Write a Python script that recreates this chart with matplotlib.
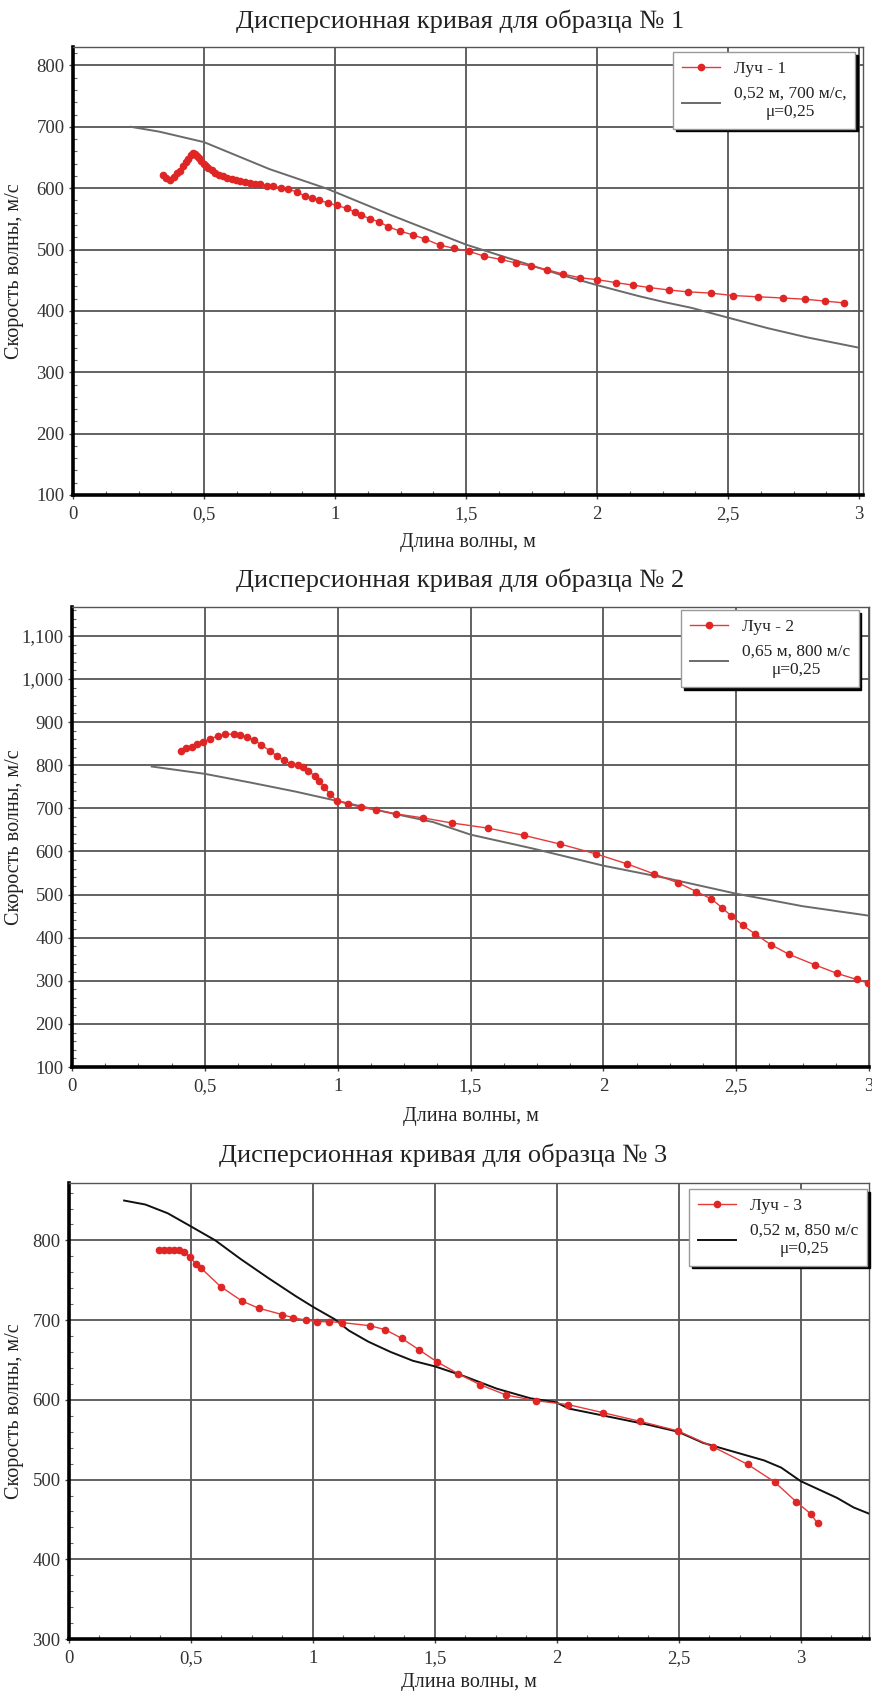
import matplotlib
matplotlib.use("Agg")
import matplotlib.pyplot as plt
from matplotlib.ticker import MultipleLocator

plt.rcParams['font.family'] = ['Liberation Serif', 'DejaVu Serif']

# ---- data ----
titles = ["Дисперсионная кривая для образца № 1",
          "Дисперсионная кривая для образца № 2",
          "Дисперсионная кривая для образца № 3"]
ray_labels = ["Луч - 1", "Луч - 2", "Луч - 3"]
theory_labels = ["0,52 м, 700 м/с,\nμ=0,25",
                 "0,65 м, 800 м/с\nμ=0,25",
                 "0,52 м, 850 м/с\nμ=0,25"]

ray1_x = [0.345, 0.355, 0.37, 0.385, 0.398, 0.408, 0.42, 0.43, 0.44, 0.45, 0.458, 0.465,
          0.472, 0.48, 0.49, 0.5, 0.508, 0.516, 0.529, 0.542, 0.557, 0.573, 0.589, 0.605,
          0.621, 0.637, 0.657, 0.676, 0.695, 0.714, 0.74, 0.765, 0.793, 0.822, 0.854, 0.885,
          0.911, 0.94, 0.974, 1.006, 1.045, 1.076, 1.101, 1.133, 1.169, 1.204, 1.248, 1.296,
          1.344, 1.401, 1.455, 1.512, 1.57, 1.632, 1.69, 1.747, 1.81, 1.871, 1.935, 1.999,
          2.073, 2.137, 2.2, 2.275, 2.349, 2.434, 2.519, 2.614, 2.71, 2.795, 2.869, 2.943]
ray1_y = [621, 617, 614, 618, 624, 628, 636, 642, 648, 654, 658, 656,
          653, 649, 645, 640, 636, 633, 629, 624, 621, 619, 617, 615,
          613, 612, 610, 609, 607, 606, 604, 603, 601, 598, 594, 587,
          584, 580, 576, 572, 567, 561, 556, 550, 545, 537, 530, 524,
          517, 507, 502, 497, 489, 484, 478, 473, 467, 460, 454, 451,
          446, 442, 438, 434, 431, 429, 425, 423, 421, 419, 416, 413]
theory1_x = [0.22, 0.33, 0.5, 0.75, 0.97, 1.22, 1.5, 1.86, 2.0, 2.16, 2.26, 2.36, 2.5, 2.65, 2.8, 3.0]
theory1_y = [700, 692, 675, 631, 599, 555, 508, 459, 442, 424, 414, 405, 389, 372, 357, 340]

ray2_x = [0.41, 0.43, 0.45, 0.47, 0.493, 0.52, 0.55, 0.577, 0.608, 0.634, 0.657, 0.686,
          0.713, 0.745, 0.77, 0.797, 0.824, 0.85, 0.87, 0.89, 0.913, 0.93, 0.95, 0.971,
          0.997, 1.038, 1.087, 1.143, 1.22, 1.32, 1.43, 1.567, 1.703, 1.838, 1.974, 2.09,
          2.19, 2.282, 2.35, 2.406, 2.448, 2.482, 2.524, 2.57, 2.63, 2.70, 2.796, 2.88,
          2.954, 2.996]
ray2_y = [834, 839, 843, 849, 854, 861, 868, 872, 872, 869, 865, 858,
          847, 833, 822, 811, 803, 800, 795, 786, 776, 764, 749, 733,
          718, 710, 703, 696, 687, 678, 666, 654, 637, 617, 594, 571,
          548, 527, 507, 490, 469, 450, 429, 409, 384, 361, 337, 317,
          303, 295]
theory2_x = [0.3, 0.5, 0.67, 0.84, 1.0, 1.2, 1.36, 1.5, 1.74, 2.0, 2.245, 2.5, 2.75, 3.0]
theory2_y = [797, 780, 760, 739, 717, 689, 668, 639, 606, 567, 537, 502, 473, 451]

ray3_x = [0.37, 0.389, 0.41, 0.43, 0.45, 0.473, 0.496, 0.519, 0.542, 0.622, 0.709, 0.777,
          0.874, 0.919, 0.972, 1.018, 1.068, 1.118, 1.233, 1.297, 1.365, 1.434, 1.507, 1.594,
          1.685, 1.793, 1.914, 2.047, 2.188, 2.342, 2.497, 2.641, 2.783, 2.893, 2.982, 3.041,
          3.069]
ray3_y = [788, 788, 788, 788, 788, 785, 779, 771, 765, 742, 724, 715,
          707, 703, 700, 698, 698, 697, 693, 688, 677, 663, 648, 633,
          619, 606, 599, 594, 584, 573, 561, 541, 519, 497, 472, 457,
          445]
theory3_x = [0.226, 0.313, 0.405, 0.503, 0.6, 0.702, 0.816, 0.93, 1.004, 1.09, 1.147, 1.227,
             1.319, 1.41, 1.5, 1.617, 1.754, 1.891, 1.996, 2.05, 2.211, 2.371, 2.497, 2.6,
             2.69, 2.85, 2.92, 3.0, 3.149, 3.217, 3.29]
theory3_y = [850, 845, 834, 817, 800, 777, 753, 730, 716, 701, 687, 673,
             660, 649, 642, 630, 614, 602, 597, 589, 579, 569, 560, 546,
             538, 524, 515, 498, 477, 465, 456]

x_ticks = [0, 0.5, 1, 1.5, 2, 2.5, 3]
x_ticklabels = ["0", "0,5", "1", "1,5", "2", "2,5", "3"]
y_ticks1 = [100, 200, 300, 400, 500, 600, 700, 800]
y_ticks2 = [100, 200, 300, 400, 500, 600, 700, 800, 900, 1000, 1100]
y_ticklabels2 = ["100", "200", "300", "400", "500", "600", "700", "800", "900", "1,000", "1,100"]
y_ticks3 = [300, 400, 500, 600, 700, 800]

# ---- layout (pixel boxes of the three plot areas) ----
W, H = 872, 1691
fig = plt.figure(figsize=(W / 100, H / 100), dpi=100)

panels = [
    dict(box=(73, 863, 47, 495), xlim=(0, 3.015), ylim=(100, 830),
         rx=ray1_x, ry=ray1_y, tx=theory1_x, ty=theory1_y, tcol="#6a6a6a",
         yt=y_ticks1, ytl=[str(v) for v in y_ticks1], leg=(0.99, 0.989),
         title_xy=(460, 21), xlab=-0.085),
    dict(box=(72, 869, 607, 1067), xlim=(0, 3.0), ylim=(100, 1167),
         rx=ray2_x, ry=ray2_y, tx=theory2_x, ty=theory2_y, tcol="#6a6a6a",
         yt=y_ticks2, ytl=y_ticklabels2, leg=(0.987, 0.993),
         title_xy=(460, 580), xlab=-0.087),
    dict(box=(69, 869, 1183, 1639), xlim=(0, 3.28), ylim=(300, 872),
         rx=ray3_x, ry=ray3_y, tx=theory3_x, ty=theory3_y, tcol="#111111",
         yt=y_ticks3, ytl=[str(v) for v in y_ticks3], leg=(0.9975, 0.987),
         title_xy=(443, 1155), xlab=-0.074),
]

for i, p in enumerate(panels):
    l, r, t, b = p["box"]
    ax = fig.add_axes([l / W, 1 - b / H, (r - l) / W, (b - t) / H])

    ax.plot(p["tx"], p["ty"], color=p["tcol"], lw=1.4, label=theory_labels[i], zorder=3)
    ax.plot(p["rx"], p["ry"], color="#e63a3a", lw=1.0, marker="o", ms=4.5,
            mfc="#e02525", mec="#e02525", label=ray_labels[i], zorder=4)

    ax.set_xlim(*p["xlim"])
    ax.set_ylim(*p["ylim"])
    ax.set_xticks(x_ticks)
    ax.set_xticklabels(x_ticklabels)
    ax.set_yticks(p["yt"])
    ax.set_yticklabels(p["ytl"])
    ax.xaxis.set_minor_locator(MultipleLocator(0.125))
    ax.yaxis.set_minor_locator(MultipleLocator(20))
    ax.tick_params(which="major", length=3, width=1, color="#444", labelsize=13.5,
                   labelcolor="#333333", pad=3)
    ax.tick_params(axis="x", which="major", pad=5)
    ax.tick_params(which="minor", direction="in", length=3, width=0.8, color="#666")

    ax.grid(True, which="major", color="#555555", lw=1.3)
    ax.set_axisbelow(True)
    for side in ("left", "bottom"):
        ax.spines[side].set_linewidth(2.6)
        ax.spines[side].set_color("black")
    for side in ("top", "right"):
        ax.spines[side].set_linewidth(1.0)
        ax.spines[side].set_color("#555555")

    ax.set_xlabel("Длина волны, м", fontsize=14.5, color="#222")
    ax.set_ylabel("Скорость волны, м/с", fontsize=14.5, color="#222")
    ax.xaxis.set_label_coords(0.5, p["xlab"])
    ax.yaxis.set_label_coords((24 - l) / (r - l), 0.5)

    tx_pix, ty_pix = p["title_xy"]
    fig.text(tx_pix / W, 1 - ty_pix / H, titles[i], ha="center", va="center",
             fontsize=19, color="#222")

    handles, labels = ax.get_legend_handles_labels()
    leg = ax.legend(handles[::-1], labels[::-1], loc="upper right",
                    bbox_to_anchor=p["leg"], borderaxespad=0, fancybox=False,
                    shadow={"color": "black", "alpha": 1}, framealpha=1,
                    edgecolor="#999999", fontsize=12.5, handlelength=2.2,
                    labelspacing=0.5, borderpad=0.5)
    leg.get_frame().set_linewidth(1.0)
    for txt in leg.get_texts():
        txt.set_multialignment("center")
        txt.set_color("#222")

fig.savefig("out.png", dpi=100)
